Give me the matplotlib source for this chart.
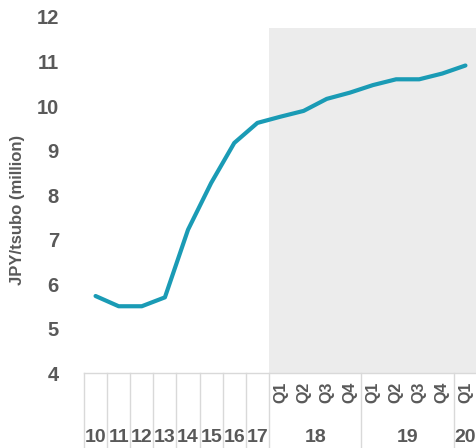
import matplotlib
matplotlib.use("Agg")
import matplotlib.pyplot as plt

plt.rcParams['font.family'] = ['Liberation Sans', 'DejaVu Sans']

# Land price per tsubo, annual to 2017 then quarterly
years = ['10', '11', '12', '13', '14', '15', '16', '17']
quarters = ['Q1', 'Q2', 'Q3', 'Q4', 'Q1', 'Q2', 'Q3', 'Q4', 'Q1']
quarter_years = ['18', '19', '20']
quarter_counts = [4, 4, 1]
values = [5.73, 5.50, 5.50, 5.70, 7.22, 8.27, 9.17, 9.62,
          9.76, 9.89, 10.16, 10.30, 10.47, 10.60, 10.60, 10.73, 10.91]

grey = '#595959'
line_col = '#1a9bb5'
grid_col = '#d9d9d9'

fig = plt.figure(figsize=(4.77, 4.48), dpi=100)
ax = fig.add_axes([84 / 477, 75 / 448, 393 / 477, 356 / 448])

n = len(values)
x = list(range(n))
ax.set_xlim(-0.5, n - 0.5)
ax.set_ylim(4, 12)

# shaded quarterly period
ax.axvspan(len(years) - 0.5, n - 0.5, ymin=0, ymax=(11.75 - 4) / 8,
           color='#ececec', zorder=0, lw=0)

ax.plot(x, values, color=line_col, lw=3, solid_capstyle='round',
        solid_joinstyle='round', zorder=3)

for s in ax.spines.values():
    s.set_visible(False)
ax.set_xticks([])
ax.set_yticks(range(4, 13))
ax.tick_params(axis='y', length=0, pad=18, labelsize=14.5, labelcolor=grey)
for t in ax.get_yticklabels():
    t.set_fontweight('bold')
ax.set_ylabel('JPY/tsubo (million)', fontsize=12, fontweight='bold', color=grey)
ax.yaxis.set_label_coords(-59 / 393, (373 - 210) / 356)

# category table under the axis
tr = ax.get_xaxis_transform()
bottom = -75 / 356
ax.plot([-0.5, n - 0.5], [0, 0], color=grid_col, lw=1, transform=tr, clip_on=False)
seps = [i - 0.5 for i in range(len(years) + 1)]
pos = len(years)
for c in quarter_counts:
    pos += c
    seps.append(pos - 0.5)
for s in seps:
    ax.plot([s, s], [0, bottom], color=grid_col, lw=1, transform=tr, clip_on=False)

for i, lab in enumerate(years):
    ax.text(i, -64 / 356, lab, transform=tr, ha='center', va='center',
            fontsize=14, fontweight='bold', color=grey)
for j, lab in enumerate(quarters):
    ax.text(len(years) + j, -19 / 356, lab, transform=tr, ha='center', va='center',
            rotation=90, fontsize=11.5, fontweight='bold', color=grey)
start = len(years)
for lab, c in zip(quarter_years, quarter_counts):
    ax.text(start + (c - 1) / 2, -64 / 356, lab, transform=tr, ha='center',
            va='center', fontsize=14, fontweight='bold', color=grey)
    start += c

fig.savefig('out.png', dpi=100)
